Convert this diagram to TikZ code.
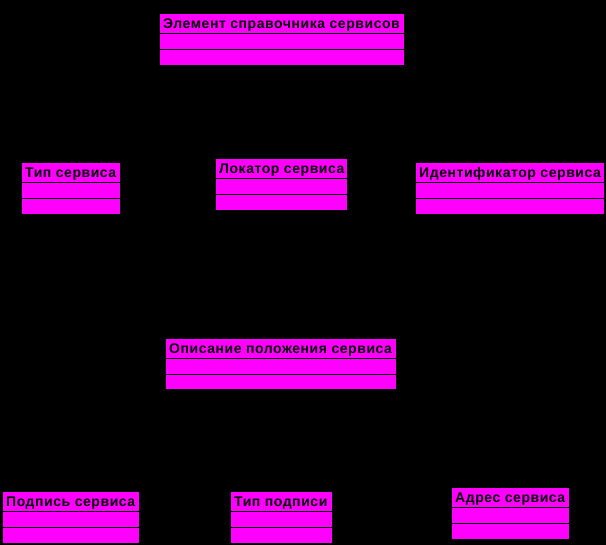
\documentclass[tikz,border=0pt]{standalone}
\usepackage{fontspec}
\setmainfont{Liberation Sans}[LetterSpace=4]
\usepackage{tikz}
\usetikzlibrary{calc}

\definecolor{umlpink}{HTML}{FF00FF}

\tikzset{
    classbox/.style={fill=umlpink, draw=none},
    divider/.style={draw=black, line width=1pt},
    classname/.style={anchor=base west, inner sep=0pt, text=black,
        font=\fontsize{14}{16}\selectfont\bfseries}
}

% class box: name, left, top, right, bottom (pixel coordinates), title
\newcommand{\umlclass}[6]{
    \fill[classbox] (#2,545-#3) rectangle (#4,545-#5);
    \node[classname] (#1) at (#2+3,545-#3-14.5) {#6};
    \draw[divider] (#2,545-#3-19.5) -- (#4,545-#3-19.5);
    \draw[divider] (#2,545-#3-35.5) -- (#4,545-#3-35.5);
}

\begin{document}
\begin{tikzpicture}[x=1pt,y=1pt]
    \fill[black] (0,0) rectangle (606,545);
    \useasboundingbox (0,0) rectangle (606,545);

    \umlclass{element}{160}{14}{404}{65}{Элемент справочника сервисов}
    \umlclass{servtype}{22}{163}{120}{214}{Тип сервиса}
    \umlclass{locator}{216}{159}{347}{210}{Локатор сервиса}
    \umlclass{ident}{416}{163}{604}{214}{Идентификатор сервиса}
    \umlclass{descr}{166}{339}{396}{389}{Описание положения сервиса}
    \umlclass{sign}{3}{492}{139}{543}{Подпись сервиса}
    \umlclass{signtype}{231}{492}{332}{543}{Тип подписи}
    \umlclass{address}{452}{488}{569}{539}{Адрес сервиса}
\end{tikzpicture}
\end{document}
